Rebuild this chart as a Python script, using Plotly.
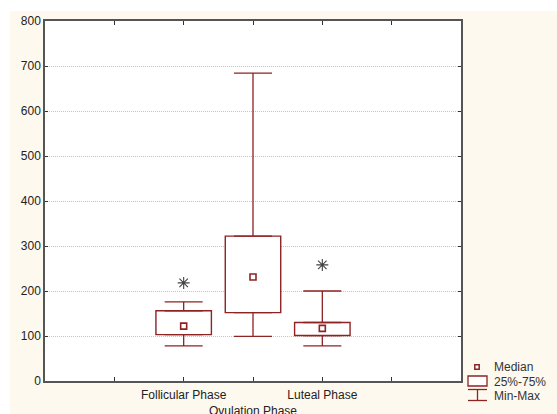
import plotly.graph_objects as go

# ---- data ----
categories = ["Follicular Phase", "Ovulation Phase", "Luteal Phase"]
mins = [78, 99, 78]
q1 = [103, 152, 101]
medians = [122, 231, 117]
q3 = [156, 322, 130]
maxs = [176, 684, 200]
asterisk_y = [218, None, 258]
y_ticks = [0, 100, 200, 300, 400, 500, 600, 700, 800]

# ---- style ----
RED = "#8E2323"
AXIS = "#555555"
FONT = "Liberation Sans, Arial, sans-serif"
CREAM = "#FEF9EE"

W, H = 557, 414
ML, MR, MT, MB = 45, 96, 21, 33
PW, PH = W - ML - MR, H - MT - MB

xpos = list(range(len(categories)))

fig = go.Figure()

# boxes (25%-75%)
fig.add_trace(go.Bar(
    x=xpos, base=q1, y=[b - a for a, b in zip(q1, q3)], width=0.8,
    marker=dict(color="white", line=dict(color=RED, width=1.4)),
    name="25%-75%", showlegend=False, hoverinfo="skip"))

# upper whiskers
fig.add_trace(go.Scatter(
    x=xpos, y=q3, mode="markers",
    marker=dict(size=1, color="rgba(0,0,0,0)"),
    error_y=dict(type="data", symmetric=False,
                 array=[mx - b for mx, b in zip(maxs, q3)],
                 arrayminus=[0] * len(q3), color=RED, thickness=1.3, width=19),
    showlegend=False, hoverinfo="skip"))
# lower whiskers
fig.add_trace(go.Scatter(
    x=xpos, y=q1, mode="markers",
    marker=dict(size=1, color="rgba(0,0,0,0)"),
    error_y=dict(type="data", symmetric=False,
                 array=[0] * len(q1),
                 arrayminus=[a - mn for a, mn in zip(q1, mins)], color=RED, thickness=1.3, width=19),
    showlegend=False, hoverinfo="skip"))

# medians
fig.add_trace(go.Scatter(
    x=xpos, y=medians, mode="markers",
    marker=dict(symbol="square", size=6, color="white", line=dict(color=RED, width=1.6)),
    name="Median", showlegend=False))

# significance asterisks
fig.add_trace(go.Scatter(
    x=xpos, y=asterisk_y, mode="markers",
    marker=dict(symbol="asterisk-open", size=10, color="#444444",
                line=dict(color="#444444", width=1.1)),
    showlegend=False, hoverinfo="skip"))

ticktext = [""] + [c if i % 2 == 0 else "<br>" + c for i, c in enumerate(categories)] + [""]
tickvals = [-1] + xpos + [len(categories)]

fig.update_xaxes(
    range=[-2, len(categories) + 1], tickvals=tickvals, ticktext=ticktext,
    tickangle=0, automargin=False, ticklabelstandoff=2,
    ticks="inside", ticklen=4, tickcolor="#333", showline=True, linecolor=AXIS,
    linewidth=1.5, mirror="ticks", showgrid=False, zeroline=False,
    tickfont=dict(family=FONT, size=12, color="#222"))
fig.update_yaxes(
    range=[0, 800], tickvals=y_ticks, automargin=False,
    ticks="inside", ticklen=3, tickcolor="#333",
    showline=True, linecolor=AXIS, linewidth=1.5, mirror="ticks",
    showgrid=True, gridcolor="#C4C4C4", griddash="1px,1px", gridwidth=1, zeroline=False,
    tickfont=dict(family=FONT, size=12, color="#222"))

def px_x(p):
    return (p - ML) / PW

def px_y(p):
    return (H - MB - p) / PH

shapes = [
    # white strips at top and left (outside cream chart area)
    dict(type="rect", xref="paper", yref="paper", layer="below",
         x0=px_x(0), x1=px_x(W), y0=px_y(11), y1=px_y(0),
         fillcolor="white", line=dict(width=0)),
    dict(type="rect", xref="paper", yref="paper", layer="below",
         x0=px_x(0), x1=px_x(10), y0=px_y(H), y1=px_y(0),
         fillcolor="white", line=dict(width=0)),
    # legend symbols
    dict(type="rect", xref="paper", yref="paper",
         x0=px_x(474.8), x1=px_x(479.2), y0=px_y(369.2), y1=px_y(364.8),
         fillcolor="white", line=dict(color=RED, width=1.5)),
    dict(type="rect", xref="paper", yref="paper",
         x0=px_x(468), x1=px_x(487), y0=px_y(386), y1=px_y(376),
         fillcolor="white", line=dict(color=RED, width=1.3)),
    dict(type="line", xref="paper", yref="paper",
         x0=px_x(468), x1=px_x(487), y0=px_y(389.5), y1=px_y(389.5),
         line=dict(color=RED, width=1.3)),
    dict(type="line", xref="paper", yref="paper",
         x0=px_x(477.5), x1=px_x(477.5), y0=px_y(389.5), y1=px_y(400.5),
         line=dict(color=RED, width=1.3)),
    dict(type="line", xref="paper", yref="paper",
         x0=px_x(468), x1=px_x(487), y0=px_y(400.5), y1=px_y(400.5),
         line=dict(color=RED, width=1.3)),
]

legend_items = [("Median", 367), ("25%-75%", 381.5), ("Min-Max", 396)]
annotations = [
    dict(text=t, xref="paper", yref="paper", x=px_x(492), y=px_y(yy),
         xanchor="left", yanchor="middle", showarrow=False,
         font=dict(family=FONT, size=12, color="#333"))
    for t, yy in legend_items
]

fig.update_layout(
    width=W, height=H, autosize=False,
    margin=dict(l=ML, r=MR, t=MT, b=MB, pad=0, autoexpand=False),
    paper_bgcolor=CREAM, plot_bgcolor="white",
    showlegend=False, barmode="overlay",
    shapes=shapes, annotations=annotations,
    font=dict(family=FONT, size=12, color="#222"),
)

fig.write_html(
    "out.html",
    config={"displayModeBar": False},
    post_script="document.body.style.margin='0';document.body.style.padding='0';"
                "document.documentElement.style.overflow='hidden';",
)
